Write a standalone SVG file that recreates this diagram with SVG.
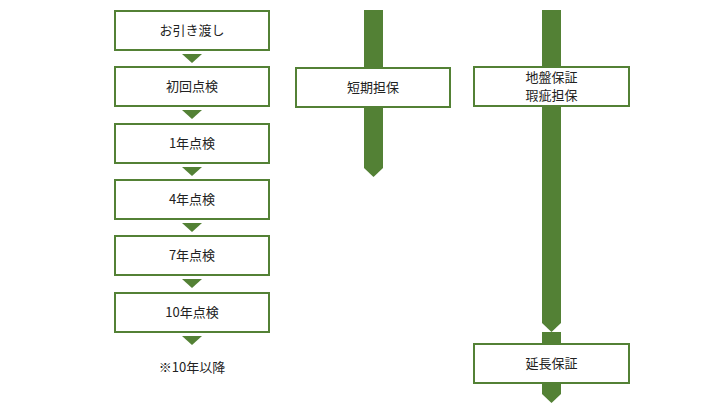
<svg xmlns="http://www.w3.org/2000/svg" width="720" height="405" viewBox="0 0 720 405">
<style>
.b{fill:#fff;stroke:#538135;stroke-width:2}
.g{fill:#538135}
text{font-family:"Noto Sans CJK JP","Noto Sans",sans-serif;font-size:13px;fill:#222;text-anchor:middle}
</style>
<rect width="720" height="405" fill="#fff"/>
<g id="connectors">
<polygon class="g" points="182,54 202,54 192,63"/>
<polygon class="g" points="182,110 202,110 192,119"/>
<polygon class="g" points="182,167 202,167 192,176"/>
<polygon class="g" points="182,223 202,223 192,232"/>
<polygon class="g" points="182,279 202,279 192,288"/>
<polygon class="g" points="182,336 202,336 192,345"/>
<polygon class="g" points="364,10 383,10 383,168 373.5,177 364,168"/>
<polygon class="g" points="542,10 561,10 561,323 551.5,332 542,323"/>
<polygon class="g" points="542,332 561,332 561,394 551.5,403 542,394"/>
</g>
<g id="n1"><rect class="b" x="115" y="11" width="154" height="39"/><text x="192" y="35">お引き渡し</text></g>
<g id="n2"><rect class="b" x="115" y="67" width="154" height="39"/><text x="192" y="91">初回点検</text></g>
<g id="n3"><rect class="b" x="115" y="124" width="154" height="39"/><text x="192" y="148">1年点検</text></g>
<g id="n4"><rect class="b" x="115" y="180" width="154" height="39"/><text x="192" y="204">4年点検</text></g>
<g id="n5"><rect class="b" x="115" y="236" width="154" height="39"/><text x="192" y="260">7年点検</text></g>
<g id="n6"><rect class="b" x="115" y="293" width="154" height="39"/><text x="192" y="317">10年点検</text></g>
<g id="n7"><text x="192" y="372">※10年以降</text></g>
<g id="n8"><rect class="b" x="296" y="68" width="154" height="39"/><text x="373" y="92">短期担保</text></g>
<g id="n9"><rect class="b" x="474" y="67" width="155" height="39"/><text x="551.5" y="82">地盤保証</text><text x="551.5" y="100" font-size="12.5">瑕疵担保</text></g>
<g id="n10"><rect class="b" x="474" y="344" width="155" height="39"/><text x="551.5" y="368">延長保証</text></g>
</svg>
